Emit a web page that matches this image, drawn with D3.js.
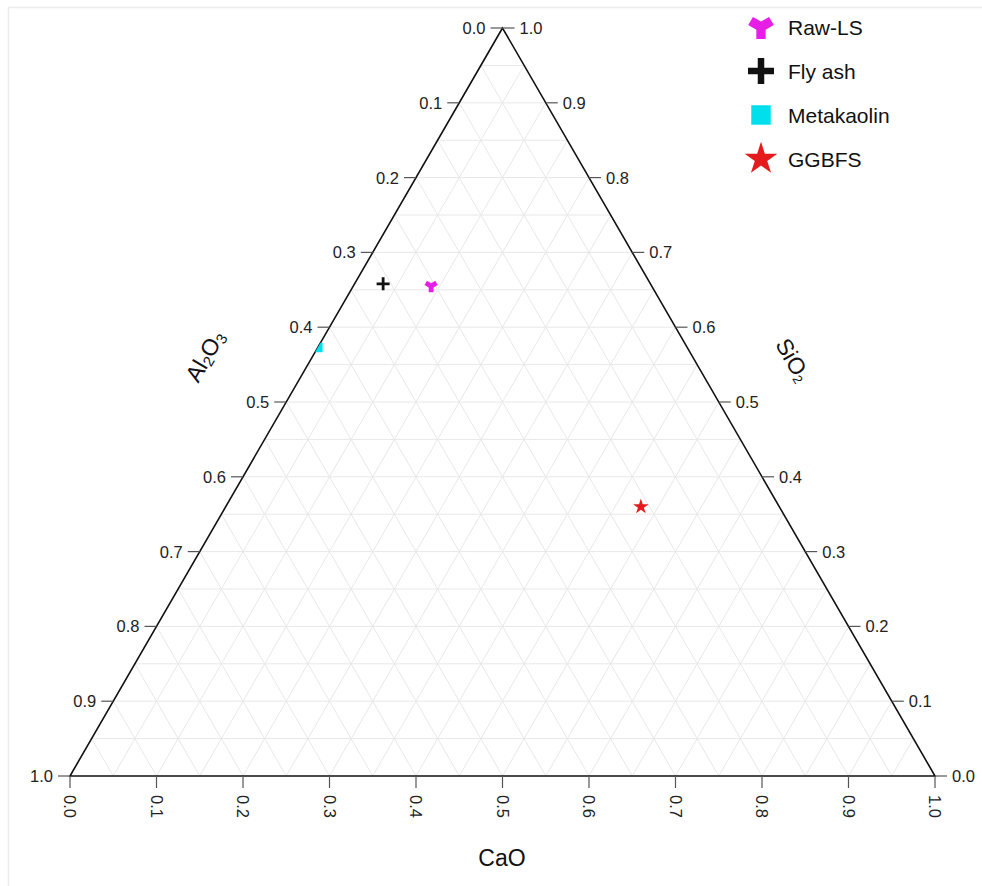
<html>
  <head>
    <meta charset="utf-8">
    <style type="text/css">
      body { margin: 0; background: #fff; overflow: hidden; }
      svg { display: block; }
      text { font-family: "Liberation Sans", Arial, sans-serif; }
    </style>
  </head>
  <body>
    <script src="https://cdnjs.cloudflare.com/ajax/libs/d3/7.8.5/d3.min.js"></script>
    <script type="text/javascript">
      // samples, oxide fractions (CaO, Al2O3, SiO2)
      const samples = ["Raw-LS", "Fly ash", "Metakaolin", "GGBFS"];
      const caoVals = [0.09, 0.033, 0.0, 0.48];
      const al2o3Vals = [0.255, 0.309, 0.427, 0.16];
      const sio2Vals = [0.655, 0.658, 0.573, 0.36];
      const tickVals = [0, 0.1, 0.2, 0.3, 0.4, 0.5, 0.6, 0.7, 0.8, 0.9, 1.0];
      const colors = ["#e61ee6", "#111111", "#00e0ec", "#e41a1c"];

      const props = { width: 982, height: 886, left: 70, right: 935, top: 28, bottom: 776 };

      const svg = d3.select("body").append("svg")
        .attr("width", props.width)
        .attr("height", props.height);

      // frame
      svg.append("path")
        .attr("d", "M8.5,900 L8.5,7.5 L990,7.5")
        .attr("fill", "none")
        .attr("stroke", "#ececec")
        .attr("stroke-width", 1.5);

      // x from (CaO + SiO2/2), y from SiO2
      const xs = d3.scaleLinear().domain([0, 1]).range([props.left, props.right]);
      const ys = d3.scaleLinear().domain([0, 1]).range([props.bottom, props.top]);
      const pos = (ca, si) => [xs(ca + si / 2), ys(si)];

      // grid
      const gridG = svg.append("g").attr("id", "grid");
      const steps = d3.range(1, 20).map(i => i / 20);
      const gridLines = [];
      steps.forEach(v => {
        gridLines.push([pos(0, v), pos(1 - v, v)]);     // SiO2 const
        gridLines.push([pos(v, 0), pos(v, 1 - v)]);     // CaO const
        gridLines.push([pos(1 - v, 0), pos(0, 1 - v)]); // Al2O3 const
      });
      gridG.selectAll("line").data(gridLines).enter().append("line")
        .attr("x1", d => d[0][0]).attr("y1", d => d[0][1])
        .attr("x2", d => d[1][0]).attr("y2", d => d[1][1])
        .attr("stroke", "#e8e8e8")
        .attr("stroke-width", 1);

      // triangle outline
      const corners = [pos(0, 1), pos(0, 0), pos(1, 0)];
      svg.append("path")
        .attr("d", "M" + corners.join("L") + "Z")
        .attr("fill", "none")
        .attr("stroke", "#111")
        .attr("stroke-width", 1.6);

      svg.append("clipPath").attr("id", "tri")
        .append("path").attr("d", "M" + corners.join("L") + "Z");

      const tickLen = 12;
      const fmt = d3.format(".1f");
      const axG = svg.append("g").attr("id", "axes");
      const tickFont = 16.5;

      // left axis: Al2O3 (0 at top, 1 at bottom-left)
      tickVals.forEach(v => {
        const p = pos(0, 1 - v);
        axG.append("line")
          .attr("x1", p[0] - tickLen).attr("y1", p[1])
          .attr("x2", p[0]).attr("y2", p[1])
          .attr("stroke", "#555").attr("stroke-width", 1.2);
        axG.append("text")
          .attr("x", p[0] - tickLen - 5).attr("y", p[1])
          .attr("text-anchor", "end")
          .attr("dominant-baseline", "central")
          .attr("font-size", tickFont).attr("fill", "#222")
          .text(fmt(v));
      });

      // right axis: SiO2 (1 at top, 0 at bottom-right)
      tickVals.forEach(v => {
        const p = pos(1 - v, v);
        axG.append("line")
          .attr("x1", p[0]).attr("y1", p[1])
          .attr("x2", p[0] + tickLen).attr("y2", p[1])
          .attr("stroke", "#555").attr("stroke-width", 1.2);
        axG.append("text")
          .attr("x", p[0] + tickLen + 5).attr("y", p[1])
          .attr("text-anchor", "start")
          .attr("dominant-baseline", "central")
          .attr("font-size", tickFont).attr("fill", "#222")
          .text(fmt(v));
      });

      // bottom axis: CaO
      tickVals.forEach(v => {
        const p = pos(v, 0);
        axG.append("line")
          .attr("x1", p[0]).attr("y1", p[1])
          .attr("x2", p[0]).attr("y2", p[1] + tickLen)
          .attr("stroke", "#555").attr("stroke-width", 1.2);
        axG.append("text")
          .attr("transform", `translate(${p[0]},${p[1] + tickLen + 7}) rotate(90)`)
          .attr("text-anchor", "start")
          .attr("dominant-baseline", "central")
          .attr("font-size", tickFont).attr("fill", "#222")
          .text(fmt(v));
      });

      // axis titles
      const t1 = svg.append("text")
        .attr("transform", "translate(205,356) rotate(-60)")
        .attr("text-anchor", "middle")
        .attr("dominant-baseline", "central")
        .attr("font-size", 23).attr("fill", "#111");
      t1.append("tspan").text("Al");
      t1.append("tspan").attr("font-size", 15).attr("dy", 5).text("2");
      t1.append("tspan").attr("dy", -5).text("O");
      t1.append("tspan").attr("font-size", 15).attr("dy", 5).text("3");

      const t2 = svg.append("text")
        .attr("transform", "translate(793,360) rotate(60)")
        .attr("text-anchor", "middle")
        .attr("dominant-baseline", "central")
        .attr("font-size", 23).attr("fill", "#111");
      t2.append("tspan").text("SiO");
      t2.append("tspan").attr("font-size", 13).attr("dy", 5).text("2");

      svg.append("text")
        .attr("x", 502).attr("y", 866)
        .attr("text-anchor", "middle")
        .attr("font-size", 23).attr("fill", "#111")
        .text("CaO");

      // marker drawing
      const symbolFor = [d3.symbolWye, d3.symbolCross, d3.symbolSquare, d3.symbolStar];
      const plotSizes = [80, 0, 90, 75];
      const legendSizes = [300, 0, 380, 330];

      function drawMarker(g, i, x, y, big) {
        if (i === 1) {
          const h = big ? 13 : 6.5, w = big ? 6.5 : 2.8;
          g.append("path")
            .attr("d", `M${x - h},${y}L${x + h},${y}M${x},${y - h}L${x},${y + h}`)
            .attr("stroke", colors[i]).attr("stroke-width", w);
          return;
        }
        g.append("path")
          .attr("transform", `translate(${x},${y})`)
          .attr("d", d3.symbol().type(symbolFor[i]).size(big ? legendSizes[i] : plotSizes[i])())
          .attr("fill", colors[i]);
      }

      // points
      const ptG = svg.append("g").attr("id", "points").attr("clip-path", "url(#tri)");
      samples.forEach((s, i) => {
        const p = pos(caoVals[i], sio2Vals[i]);
        drawMarker(ptG, i, p[0], p[1], false);
      });

      // legend
      const lg = svg.append("g").attr("id", "legend");
      samples.forEach((s, i) => {
        const y = 27 + i * 44;
        drawMarker(lg, i, 761, y, true);
        lg.append("text")
          .attr("x", 788).attr("y", y)
          .attr("dominant-baseline", "central")
          .attr("font-size", 21).attr("fill", "#111")
          .text(s);
      });
    </script>
  </body>
</html>
